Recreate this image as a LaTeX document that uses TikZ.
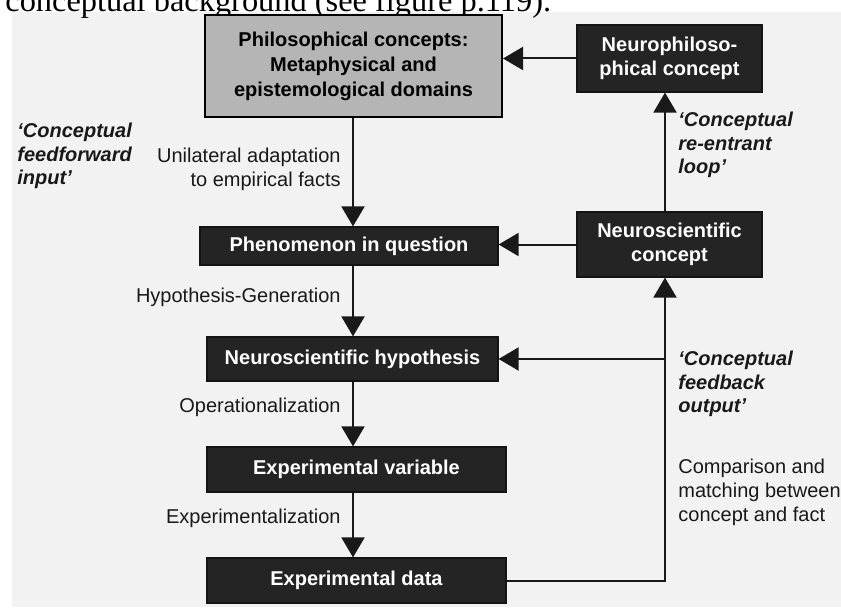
\documentclass[tikz,border=0pt]{standalone}
\usepackage{fontspec}
\setmainfont{Liberation Sans}
\newfontfamily\serifface{Liberation Serif}
\usetikzlibrary{arrows.meta}
\begin{document}
\begin{tikzpicture}[x=0.5pt,y=-0.5pt,
  boxbase/.style={inner sep=0pt, align=center, font=\fontsize{10}{12}\selectfont\bfseries},
  darkbox/.style={boxbase, draw=black!92, line width=0.6pt, fill=black!86, text=white},
  graybox/.style={boxbase, draw=black, line width=1pt, fill=black!29, text=black,
                  font=\fontsize{10}{12.5}\selectfont\bfseries},
  conn/.style={line width=1pt, draw=black!90},
  arr/.style={conn, -{Triangle[length=10pt,width=11.5pt]}},
  lab/.style={inner sep=0pt, font=\fontsize{10}{12}\selectfont, text=black!90},
  ilab/.style={lab, align=left, font=\fontsize{10}{11.6}\selectfont\bfseries\itshape},
]
\useasboundingbox (0,0) rectangle (841,610);
\fill[white] (0,0) rectangle (841,610);
\fill[black!5] (12,12) rectangle (841,607);
\node[anchor=base west, inner sep=0pt, font=\serifface\fontsize{16.2}{19}\selectfont] (toptext) at (5,12) {conceptual background (see figure p.119).};

% boxes
\node[graybox, minimum width=148.5pt, minimum height=51pt] (phil) at (353.5,66) {Philosophical concepts:\\Metaphysical and\\epistemological domains};
\node[darkbox, minimum width=92.5pt, minimum height=33.5pt] (nphil) at (669.5,58.5) {Neurophiloso-\\phical concept};
\node[darkbox, minimum width=149pt, minimum height=19pt] (phen) at (349,246) {Phenomenon in question};
\node[darkbox, minimum width=92.5pt, minimum height=32.5pt] (nconc) at (669.5,244.5) {Neuroscientific\\concept};
\node[darkbox, minimum width=145.5pt, minimum height=22pt] (hyp) at (352.5,359) {Neuroscientific hypothesis};
\node[darkbox, minimum width=149.5pt, minimum height=22.5pt] (var) at (356.5,469.5) {Experimental variable};
\node[darkbox, minimum width=149.5pt, minimum height=22.5pt] (data) at (356.5,580.5) {Experimental data};

\coordinate (lx) at (353,0);
\coordinate (rx) at (665,0);

% connectors
\draw[arr] (nphil.west) -- (nphil.west -| phil.east);
\draw[arr] (lx |- phil.south) -- (lx |- phen.north);
\draw[arr] (lx |- phen.south) -- (lx |- hyp.north);
\draw[arr] (lx |- hyp.south) -- (lx |- var.north);
\draw[arr] (lx |- var.south) -- (lx |- data.north);
\draw[arr] (nconc.west) -- (nconc.west -| phen.east);
\draw[arr] (rx |- nconc.north) -- (rx |- nphil.south);
\draw[arr] (data.east) -| (rx |- nconc.south);
\draw[arr] (rx |- hyp.east) -- (hyp.east);

% labels
\node[ilab, anchor=west] (ffin) at (17,156) {‘Conceptual\\feedforward\\input’};
\node[lab, align=right, anchor=east] (unil) at (341,169) {Unilateral adaptation\\to empirical facts};
\node[ilab, anchor=west] (reent) at (678,145) {‘Conceptual\\re-entrant\\loop’};
\node[lab, anchor=east] (hypgen) at (341,297) {Hypothesis-Generation};
\node[lab, anchor=east] (oper) at (341,407) {Operationalization};
\node[lab, anchor=east] (expz) at (341,518) {Experimentalization};
\node[ilab, anchor=west] (fbout) at (678,384) {‘Conceptual\\feedback\\output’};
\node[lab, align=left, anchor=west] (comp) at (678,492) {Comparison and\\matching between\\concept and fact};
\end{tikzpicture}
\end{document}
